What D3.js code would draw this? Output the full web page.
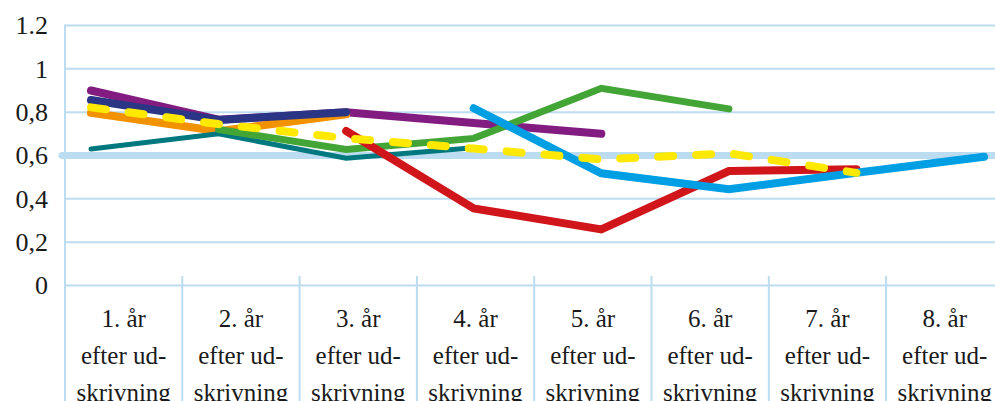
<!DOCTYPE html>
<html><head><meta charset="utf-8">
<script src="https://cdn.jsdelivr.net/npm/d3@7/dist/d3.min.js"></script>
<style>body{margin:0;background:#fff;overflow:hidden}svg{display:block}</style>
</head><body><svg id="c" width="995" height="401"></svg>
<script>
const categories = ["1. år efter ud- skrivning","2. år efter ud- skrivning","3. år efter ud- skrivning","4. år efter ud- skrivning","5. år efter ud- skrivning","6. år efter ud- skrivning","7. år efter ud- skrivning","8. år efter ud- skrivning"];
const labelLines = [["1. år","efter ud-","skrivning"],["2. år","efter ud-","skrivning"],["3. år","efter ud-","skrivning"],["4. år","efter ud-","skrivning"],["5. år","efter ud-","skrivning"],["6. år","efter ud-","skrivning"],["7. år","efter ud-","skrivning"],["8. år","efter ud-","skrivning"]];
const yTicks = [0,0.2,0.4,0.6,0.8,1,1.2];
const yTickLabels = ["0","0,2","0,4","0,6","0,8","1","1.2"];
const referenceValue = 0.6;
const purple = [0.90,0.765,0.80,0.75,0.70,null,null,null];
const navy   = [0.856,0.764,0.80,null,null,null,null,null];
const orange = [0.797,0.712,0.79,null,null,null,null,null];
const teal   = [0.63,0.70,0.587,0.636,null,null,null,null];
const green  = [null,0.72,0.628,0.679,0.91,0.815,null,null];
const red    = [null,null,0.713,0.356,0.259,0.528,0.537,null];
const blue   = [null,null,null,0.818,0.518,0.444,0.52,0.594];
const yellow = [0.822,0.745,0.68,0.632,0.582,0.61,0.52,null];

const series = [
  {v:purple,c:"#821c80",w:8},
  {v:orange,c:"#f39200",w:8},
  {v:navy,c:"#2a3586",w:8},
  {v:teal,c:"#00787f",w:5},
  {v:green,c:"#43a536",w:7},
  {v:red,c:"#d0161b",w:8},
  {v:blue,c:"#009fe3",w:8},
  {v:yellow,c:"#ffe900",w:8,dash:"15 23"}
];

const svg = d3.select("#c");
const grid = "#bcdcf1";
const y = d3.scaleLinear().domain([0,1.2]).range([285.5,25.5]);
const xb = d3.scaleBand().domain(categories).range([65,1003.4]);
const xl = d3.scalePoint().domain(categories).range([91,984]);

// gridlines
svg.append("g").selectAll("line").data(yTicks).join("line")
  .attr("x1",65).attr("x2",995).attr("y1",d=>y(d)).attr("y2",d=>y(d))
  .attr("stroke",grid).attr("stroke-width",2);
// reference line
svg.append("line").attr("x1",62).attr("x2",1000).attr("y1",y(referenceValue)).attr("y2",y(referenceValue))
  .attr("stroke",grid).attr("stroke-width",7).attr("stroke-linecap","round");
// left axis line
svg.append("line").attr("x1",65).attr("x2",65).attr("y1",y(1.2)-1).attr("y2",401)
  .attr("stroke",grid).attr("stroke-width",2);
// category separators
svg.append("g").selectAll("line").data(categories.slice(1)).join("line")
  .attr("x1",d=>xb(d)).attr("x2",d=>xb(d)).attr("y1",276).attr("y2",401)
  .attr("stroke",grid).attr("stroke-width",2);

// y labels
svg.append("g").selectAll("text").data(yTicks).join("text")
  .attr("x",48).attr("y",d=>y(d)).attr("dy","0.34em").attr("text-anchor","end")
  .attr("font-family","Liberation Serif, serif").attr("font-size",26).attr("fill","#1a1a1a")
  .text((d,i)=>yTickLabels[i]);

// x labels
const xg = svg.append("g").selectAll("text").data(categories).join("text")
  .attr("text-anchor","middle").attr("font-family","Liberation Serif, serif").attr("font-size",25).attr("fill","#1a1a1a");
xg.each(function(d,i){
  const t = d3.select(this);
  labelLines[i].forEach((ln,k)=>{
    t.append("tspan").attr("x",xb(d)+xb.bandwidth()/2).attr("y",327+k*37).text(ln);
  });
});

// lines
const line = d3.line().defined(d=>d.v!=null).x(d=>xl(d.c)).y(d=>y(d.v));
series.forEach(s=>{
  const pts = s.v.map((v,i)=>({v:v,c:categories[i]}));
  const p = svg.append("path").datum(pts).attr("d",line).attr("fill","none")
    .attr("stroke",s.c).attr("stroke-width",s.w).attr("stroke-linecap","round").attr("stroke-linejoin","miter");
  if(s.dash) p.attr("stroke-dasharray",s.dash);
});
</script></body></html>
